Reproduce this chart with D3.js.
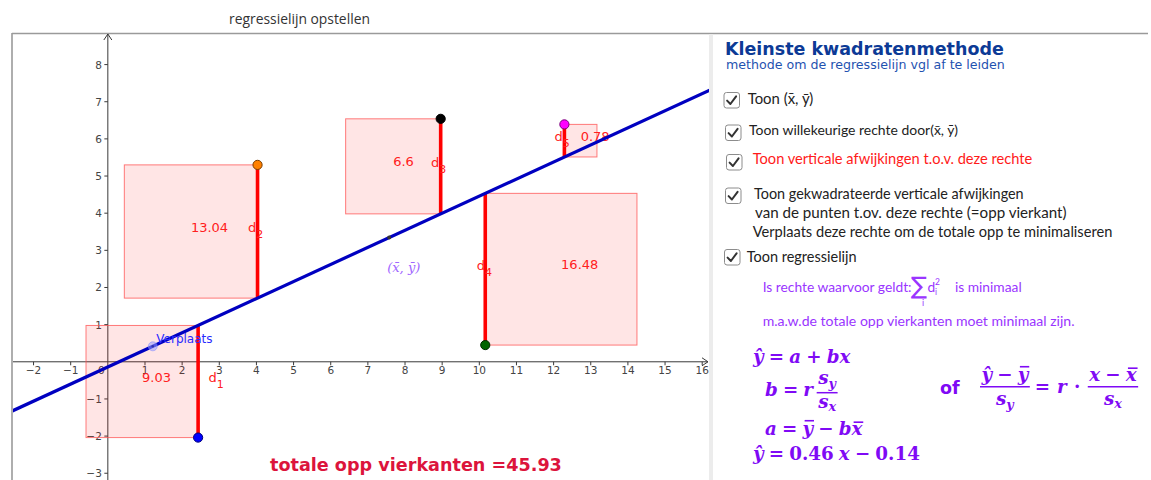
<!DOCTYPE html>
<html><head><meta charset="utf-8">
<script src="https://cdn.jsdelivr.net/npm/d3@7"></script>
<style>body{margin:0;background:#fff}svg{display:block}</style>
</head><body>
<svg id="c" width="1151" height="480"></svg>
<script>
// ---------------- data ----------------
const pointX = [2.43, 4.03, 8.96, 10.16, 12.29];
const pointY = [-2.04, 5.30, 6.54, 0.45, 6.39];
const squareAreas = [9.03, 13.04, 6.6, 16.48, 0.78];
const squareDirection = [-1, -1, -1, 1, 1];
const pointIndex = ["1", "2", "3", "4", "5"];
const slope = 0.46, intercept = -0.14;
const xTickLabels = [-2, -1, 1, 2, 3, 4, 5, 6, 7, 8, 9, 10, 11, 12, 13, 14, 15, 16];
const yTickLabels = [-3, -2, -1, 1, 2, 3, 4, 5, 6, 7, 8];
const moverX = 1.21;
const totalArea = 45.93;

// ---------------- styles ----------------
const pointFill = ["#0000ff", "#ff8000", "#000000", "#006400", "#ff00ff"];
const pointStroke = ["#00007a", "#7a3d00", "#000000", "#002a00", "#7a007a"];
const dLabelOffset = [10.5, -9.6, -9.7, -8.5, -10];
const SANS = "'DejaVu Sans', Verdana, sans-serif";
const UI = "Lato, 'Open Sans', sans-serif";
const SERIF = "'DejaVu Serif', serif";
const PURPLE = "#9a35ff";
const MATHC = "#7f0af5";

const svg = d3.select("#c");
const x = d3.scaleLinear().domain([-2.58, 16.21]).range([12, 710]);
const y = d3.scaleLinear().domain([-3.19, 8.85]).range([480.3, 33]);
const lineY = v => slope * v + intercept;

function fit(sel, target) {
  const w = sel.node().getComputedTextLength();
  const fs = parseFloat(sel.attr("font-size"));
  sel.attr("font-size", fs * target / w);
  return sel;
}

// frame
svg.append("line").attr("x1", 12).attr("x2", 1148).attr("y1", 33.5).attr("y2", 33.5)
  .attr("stroke", "#9a9a9a").attr("stroke-width", 1.6);
svg.append("line").attr("x1", 12).attr("x2", 12).attr("y1", 33).attr("y2", 480)
  .attr("stroke", "#9a9a9a").attr("stroke-width", 1.6);
svg.append("rect").attr("x", 709).attr("y", 34.3).attr("width", 4).attr("height", 446)
  .attr("fill", "#ececec");

// title
fit(svg.append("text").attr("x", 229).attr("y", 24).attr("font-family", "'Open Sans', sans-serif")
  .attr("font-size", 14).attr("fill", "#333").text("regressielijn opstellen"), 141);

// ---------------- plot ----------------
svg.append("defs").append("clipPath").attr("id", "clip")
  .append("rect").attr("x", 13).attr("y", 34).attr("width", 696).attr("height", 446);
const plot = svg.append("g").attr("clip-path", "url(#clip)");

// axes
const AX = "#3a3a3a";
plot.append("line").attr("x1", 12).attr("x2", 708).attr("y1", y(0)).attr("y2", y(0))
  .attr("stroke", AX).attr("stroke-width", 1);
plot.append("line").attr("x1", x(0)).attr("x2", x(0)).attr("y1", 480).attr("y2", 34)
  .attr("stroke", AX).attr("stroke-width", 1);
plot.append("path").attr("d", `M${702},${y(0) - 4}L${708},${y(0)}L${702},${y(0) + 4}`)
  .attr("fill", "none").attr("stroke", AX);
plot.append("path").attr("d", `M${x(0) - 4},${40}L${x(0)},${34}L${x(0) + 4},${40}`)
  .attr("fill", "none").attr("stroke", AX);

const xt = plot.append("g");
xTickLabels.forEach(v => {
  xt.append("line").attr("x1", x(v)).attr("x2", x(v)).attr("y1", y(0)).attr("y2", y(0) + 3.5)
    .attr("stroke", AX);
  xt.append("text").attr("x", x(v)).attr("y", y(0) + 11.8).attr("text-anchor", "middle")
    .attr("font-family", SANS).attr("font-size", 10.5).attr("fill", "#444")
    .text(v < 0 ? "\u2212" + Math.abs(v) : v);
});
xt.append("text").attr("x", x(0) - 6.5).attr("y", y(0) + 11.8).attr("text-anchor", "middle")
  .attr("font-family", SANS).attr("font-size", 10.5).attr("fill", "#444").text("0");
const yt = plot.append("g");
yTickLabels.forEach(v => {
  yt.append("line").attr("x1", x(0) - 3.5).attr("x2", x(0)).attr("y1", y(v)).attr("y2", y(v))
    .attr("stroke", AX);
  yt.append("text").attr("x", x(0) - 6).attr("y", y(v) + 4).attr("text-anchor", "end")
    .attr("font-family", SANS).attr("font-size", 10.5).attr("fill", "#444")
    .text(v < 0 ? "\u2212" + Math.abs(v) : v);
});

// squares
const data = pointX.map((px, i) => {
  const ly = lineY(px);
  const side = Math.abs(pointY[i] - ly);
  return { i, px, py: pointY[i], ly, side, x0: squareDirection[i] < 0 ? px - side : px,
    yLow: Math.min(pointY[i], ly), yHigh: Math.max(pointY[i], ly) };
});
plot.selectAll("rect.sq").data(data).join("rect").attr("class", "sq")
  .attr("x", d => x(d.x0)).attr("y", d => y(d.yHigh))
  .attr("width", d => x(d.x0 + d.side) - x(d.x0)).attr("height", d => y(d.yLow) - y(d.yHigh))
  .attr("fill", "#ff0000").attr("fill-opacity", 0.1)
  .attr("stroke", "#ff5050").attr("stroke-opacity", 0.75).attr("stroke-width", 1);

// residual segments
plot.selectAll("line.seg").data(data).join("line").attr("class", "seg")
  .attr("x1", d => x(d.px)).attr("x2", d => x(d.px))
  .attr("y1", d => y(d.py)).attr("y2", d => y(d.ly))
  .attr("stroke", "#ff0000").attr("stroke-width", 3.6);

// square area labels
plot.selectAll("text.area").data(data).join("text").attr("class", "area")
  .attr("x", d => x(d.x0 + d.side / 2)).attr("y", d => (y(d.yLow) + y(d.yHigh)) / 2)
  .attr("font-family", SANS).attr("font-size", 13).attr("fill", "#ff2020")
  .text(d => squareAreas[d.i]);

// regression line
const xd = x.domain();
plot.append("line").attr("x1", x(xd[0])).attr("x2", x(xd[1]))
  .attr("y1", y(lineY(xd[0]))).attr("y2", y(lineY(xd[1])))
  .attr("stroke", "#0000c0").attr("stroke-width", 3.2);

// d labels
data.forEach(d => {
  const mid = (y(d.py) + y(d.ly)) / 2;
  const t = plot.append("text").attr("x", x(d.px) + dLabelOffset[d.i]).attr("y", mid + 0.5)
    .attr("font-family", SANS).attr("font-size", 13).attr("fill", "#ff2020");
  t.append("tspan").text("d");
  t.append("tspan").attr("dy", 6).attr("font-size", 11).text(pointIndex[d.i]);
});

// mean point
const mx = d3.mean(pointX), my = d3.mean(pointY);
plot.append("circle").attr("cx", x(mx)).attr("cy", y(lineY(mx))).attr("r", 2)
  .attr("fill", "#333");
const ml = plot.append("text").attr("x", x(mx) - 2).attr("y", y(my) + 34)
  .attr("font-family", SERIF).attr("font-style", "italic").attr("font-size", 13)
  .attr("fill", "#a066ff");
ml.append("tspan").text("(");
ml.append("tspan").text("x\u0304");
ml.append("tspan").text(", ");
ml.append("tspan").text("\u0233");
ml.append("tspan").text(")");

// mover point
plot.append("circle").attr("cx", x(moverX)).attr("cy", y(lineY(moverX))).attr("r", 4.5)
  .attr("fill", "#9aa0ff").attr("fill-opacity", 0.55).attr("stroke", "#8088ff").attr("stroke-opacity", 0.5);
plot.append("circle").attr("cx", x(moverX)).attr("cy", y(lineY(moverX))).attr("r", 1.2)
  .attr("fill", "#3333aa");
plot.append("text").attr("x", x(moverX) + 3.5).attr("y", y(lineY(moverX)) - 3.5)
  .attr("font-family", SANS).attr("font-size", 12).attr("fill", "#2a2aff").text("Verplaats");

// points
plot.selectAll("circle.pt").data(data).join("circle").attr("class", "pt")
  .attr("cx", d => x(d.px)).attr("cy", d => y(d.py)).attr("r", 4.6)
  .attr("fill", d => pointFill[d.i]).attr("stroke", d => pointStroke[d.i]).attr("stroke-width", 1);

// total
fit(svg.append("text").attr("x", 270).attr("y", 470.7).attr("font-family", SANS)
  .attr("font-weight", "bold").attr("font-size", 18).attr("fill", "#dc143c")
  .text("totale opp vierkanten =" + totalArea), 292);

// ---------------- right panel ----------------
const panel = svg.append("g");
fit(panel.append("text").attr("x", 725).attr("y", 54.5).attr("font-family", SANS)
  .attr("font-weight", "bold").attr("font-size", 18).attr("fill", "#0c3a96")
  .text("Kleinste kwadratenmethode"), 279);
fit(panel.append("text").attr("x", 726).attr("y", 68.5).attr("font-family", SANS)
  .attr("font-size", 12).attr("fill", "#1f52b0")
  .text("methode om de regressielijn vgl af te leiden"), 279);

function checkbox(cx, cy) {
  const g = panel.append("g").attr("transform", `translate(${cx},${cy})`);
  g.append("rect").attr("x", 0.5).attr("y", 0.5).attr("width", 15.5).attr("height", 15.5).attr("rx", 2.5)
    .attr("fill", "#fff").attr("stroke", "#8c8c8c");
  g.append("path").attr("d", "M3.6,8.6L6.9,12L12.6,4.3").attr("fill", "none")
    .attr("stroke", "#333").attr("stroke-width", 2).attr("stroke-linecap", "round").attr("stroke-linejoin", "round");
}
checkbox(723.5, 92);
checkbox(725, 124.5);
checkbox(726, 154);
checkbox(725, 187.5);
checkbox(724, 249);

function uiText(tx, ty, str, target, color) {
  const t = panel.append("text").attr("x", tx).attr("y", ty).attr("font-family", UI)
    .attr("font-size", 13).attr("fill", color || "#222").text(str);
  fit(t, target);
  return t;
}
uiText(747.7, 103.8, "Toon (x\u0304, \u0233)", 65.6);
uiText(749, 135.4, "Toon willekeurige rechte door(x\u0304, \u0233)", 209);
uiText(752.7, 164.4, "Toon verticale afwijkingen t.o.v. deze rechte", 280, "#ff1a1a");
uiText(754, 198.6, "Toon gekwadrateerde verticale afwijkingen", 270);
uiText(755, 218.3, "van de punten t.ov. deze rechte  (=opp vierkant)", 312);
uiText(752.7, 237, "Verplaats deze rechte om de totale opp te minimaliseren", 360);
uiText(746.7, 261.7, "Toon regressielijn", 110);
const p1 = uiText(762.7, 291.6, "Is rechte waarvoor geldt:", 149, PURPLE);
uiText(762.7, 326, "m.a.w.de totale opp vierkanten moet minimaal zijn.", 312, PURPLE);
const pSize = parseFloat(p1.attr("font-size"));
const e1 = 762.7 + p1.node().getComputedTextLength();
// sum symbol
panel.append("text").attr("x", e1 - 0.5).attr("y", 293.5).attr("font-family", SANS)
  .attr("font-size", 24).attr("fill", PURPLE).text("\u2211");
panel.append("text").attr("x", e1 + 10.5).attr("y", 306).attr("font-family", UI)
  .attr("font-size", 9).attr("fill", PURPLE).text("i");
panel.append("text").attr("x", e1 + 16).attr("y", 291.6).attr("font-family", UI)
  .attr("font-size", pSize).attr("fill", PURPLE).text("d");
panel.append("text").attr("x", e1 + 23.5).attr("y", 294.5).attr("font-family", UI)
  .attr("font-size", 8.5).attr("fill", PURPLE).text("i");
panel.append("text").attr("x", e1 + 23.5).attr("y", 285).attr("font-family", UI)
  .attr("font-size", 8.5).attr("fill", PURPLE).text("2");
panel.append("text").attr("x", e1 + 43.3).attr("y", 291.6).attr("font-family", UI)
  .attr("font-size", pSize).attr("fill", PURPLE).text("is minimaal");

// ---------------- formulas ----------------
const FS = 18.3;
function mrow(g, pieces, size) {
  let cx = 0;
  for (const p of pieces) {
    if (p.gap !== undefined) { cx += p.gap * size; continue; }
    const fs = size * (p.s || 1);
    const t = g.append("text").attr("x", cx).attr("y", p.dy || 0).attr("font-size", fs)
      .attr("font-family", p.sans ? SANS : SERIF).attr("font-weight", "bold")
      .attr("font-style", p.it ? "italic" : "normal").attr("fill", MATHC).text(p.t);
    const w = t.node().getComputedTextLength();
    if (p.bar) {
      const by = -fs * p.bar;
      g.append("line").attr("x1", cx + fs * 0.12).attr("x2", cx + w + fs * 0.05)
        .attr("y1", by).attr("y2", by).attr("stroke", MATHC).attr("stroke-width", 1.6);
    }
    cx += w;
  }
  return cx;
}
function row(x0, base, pieces, size) {
  const g = panel.append("g").attr("transform", `translate(${x0},${base})`);
  return x0 + mrow(g, pieces, size || FS);
}
function frac(x0, barY, num, den, size, numBase, denBase) {
  const g = panel.append("g");
  const gn = g.append("g"), gd = g.append("g");
  const s = size || FS;
  const wn = mrow(gn, num, s), wd = mrow(gd, den, s);
  const w = Math.max(wn, wd) + 3;
  gn.attr("transform", `translate(${x0 + (w - wn) / 2},${numBase})`);
  gd.attr("transform", `translate(${x0 + (w - wd) / 2},${denBase})`);
  g.append("line").attr("x1", x0).attr("x2", x0 + w).attr("y1", barY).attr("y2", barY)
    .attr("stroke", MATHC).attr("stroke-width", 1.5);
  return x0 + w;
}
const sp = { gap: 0.28 };
const eq = { t: "=" }, minus = { t: "\u2212" };
// row 1
row(753, 363, [{ t: "\u0177", it: true }, sp, eq, sp, { t: "a", it: true }, sp, { t: "+" }, sp, { t: "b", it: true }, { t: "x", it: true }]);
// row 2
let cx2 = row(765, 396, [{ t: "b", it: true }, sp, eq, sp, { t: "r", it: true }, { gap: 0.2 }]);
frac(cx2, 392.7, [{ t: "s", it: true }, { t: "y", it: true, s: 0.7, dy: 4 }],
  [{ t: "s", it: true }, { t: "x", it: true, s: 0.7, dy: 3 }], FS, 384, 408);
// of
panel.append("text").attr("x", 940).attr("y", 393.5).attr("font-family", SANS).attr("font-weight", "bold")
  .attr("font-size", 17.5).attr("fill", MATHC).text("of");
let cx3 = frac(980, 386.7, [{ t: "\u0177", it: true }, sp, minus, sp, { t: "y", it: true, bar: 0.78 }],
  [{ t: "s", it: true }, { t: "y", it: true, s: 0.7, dy: 4 }], FS, 381, 405);
cx3 = row(cx3 + 5, 392.5, [{ t: "=" }, { gap: 0.38 }, { t: "r", it: true }, { gap: 0.4 }, { t: "\u00b7" }, { gap: 0.4 }]);
frac(cx3, 386.7, [{ t: "x", it: true }, sp, minus, sp, { t: "x", it: true, bar: 0.7 }],
  [{ t: "s", it: true }, { t: "x", it: true, s: 0.7, dy: 3 }], FS, 381, 405);
// row 3
row(765, 435, [{ t: "a", it: true }, sp, eq, sp, { t: "y", it: true, bar: 0.78 }, sp, minus, sp, { t: "b", it: true }, { t: "x", it: true, bar: 0.7 }]);
// row 4
row(753, 460, [{ t: "\u0177", it: true }, sp, eq, sp, { t: String(slope) }, sp, { t: "x", it: true }, sp, minus, sp, { t: String(Math.abs(intercept)) }]);
</script>
</body></html>
